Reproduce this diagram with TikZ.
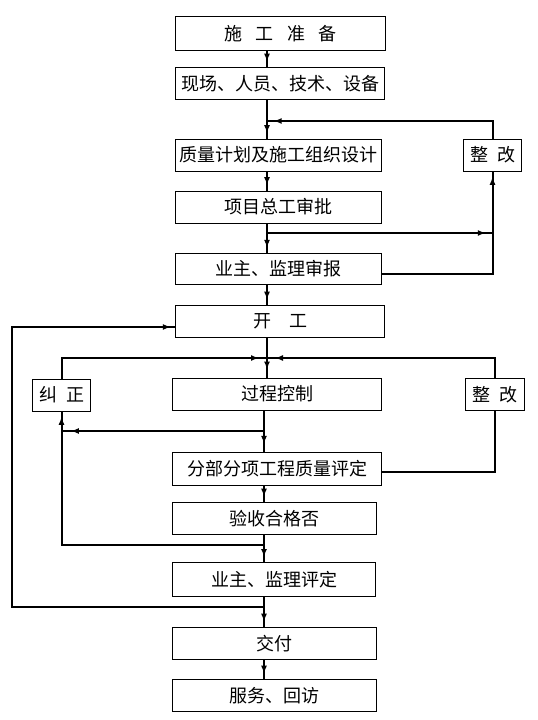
\documentclass[tikz,border=0pt]{standalone}
\usepackage{fontspec}
\newfontfamily\zh{Noto Sans CJK SC}
\usetikzlibrary{
  arrows.meta,
  decorations.markings
}
\tikzset{
  flowbox/.style={draw, line width=0.7pt, minimum width=157pt,
    minimum height=24pt, inner sep=0pt,
    font=\zh\fontsize{13.5pt}{16pt}\selectfont},
  sidebox/.style={flowbox, minimum width=44pt},
  line/.style={line width=1.5pt},
  arr/.style={line, postaction={decorate},
    decoration={markings,
      mark=at position #1 with {\arrow{Latex[length=6pt,width=4.5pt]}}}},
  arr/.default=-4pt,
}

\begin{document}
\begin{tikzpicture}[x=0.75pt, y=-0.75pt]
  \useasboundingbox (0,0) rectangle (538,720);

  % main column
  \node[flowbox, minimum height=25pt] (zhunbei) at (280.5,33.5) {施\hspace{0.75em}工\hspace{0.75em}准\hspace{0.75em}备};
  \node[flowbox] (xianchang) at (280,83.5) {现场、人员、技术、设备};
  \node[flowbox, minimum width=155pt] (zhiliang) at (278.5,155) {质量计划及施工组织设计};
  \node[flowbox, minimum width=155pt] (zonggong) at (278.5,207) {项目总工审批};
  \node[flowbox, minimum width=155pt, minimum height=23pt] (shenbao) at (278.5,269) {业主、监理审报};
  \node[flowbox] (kaigong) at (280,321.5) {开　工};
  \node[flowbox] (guocheng) at (277,394) {过程控制};
  \node[flowbox, minimum height=25pt] (fenbu) at (277,469) {分部分项工程质量评定};
  \node[flowbox, minimum width=153pt] (yanshou) at (274,518.5) {验收合格否};
  \node[flowbox, minimum width=152pt, minimum height=25pt] (pingding) at (274,579.5) {业主、监理评定};
  \node[flowbox, minimum width=153pt] (jiaofu) at (274,643.5) {交付};
  \node[flowbox, minimum width=153pt] (fuwu) at (274,695.5) {服务、回访};

  % side boxes
  \node[sidebox] (zhenggai) at (492.5,155) {整\hspace{0.5em}改};
  \node[sidebox] (jiuzheng) at (61.5,395) {纠\hspace{0.5em}正};
  \node[sidebox] (zhenggaib) at (495,394.5) {整\hspace{0.5em}改};

  % spines and free corners
  \coordinate (up) at (267,0);
  \coordinate (lo) at (264,0);
  \coordinate (outer) at (12,607);

  % main flow
  \draw[arr] (zhunbei.south -| up) -- (xianchang.north -| up);
  \draw[arr] (xianchang.south -| up) -- (zhiliang.north -| up);
  \draw[arr] (zhiliang.south -| up) -- (zonggong.north -| up);
  \draw[arr] (zonggong.south -| up) -- (shenbao.north -| up);
  \draw[arr] (shenbao.south -| up) -- (kaigong.north -| up);
  \draw[arr=-6pt] (kaigong.south -| up) -- (guocheng.north -| up);
  \draw[arr=-6pt] (guocheng.south -| lo) -- (fenbu.north -| lo);
  \draw[arr] (fenbu.south -| lo) -- (yanshou.north -| lo);
  \draw[arr] (yanshou.south -| lo) -- (pingding.north -| lo);
  \draw[arr] (pingding.south -| lo) -- (jiaofu.north -| lo);
  \draw[arr] (jiaofu.south -| lo) -- (fuwu.north -| lo);

  % upper loop
  \draw[arr=-5pt] (zhenggai.north) |- (up |- 0,121);
  \draw[arr=-5pt] (up |- 0,233) -- (zhenggai.south |- 0,233);
  \draw[arr=-4pt] (shenbao.east |- 0,274) -| (zhenggai.south);

  % lower loops
  \draw[arr=-6pt] (jiuzheng.north) |- (up |- 0,358);
  \draw[arr=-6pt] (zhenggaib.north) |- (up |- 0,358);
  \draw[line] (fenbu.east |- 0,472) -| (zhenggaib.south);
  \draw[arr=-7pt] (lo |- 0,431) -- (jiuzheng.south |- 0,431);
  \draw[arr=-4pt] (lo |- 0,545) -| (jiuzheng.south);
  \draw[arr=-3pt] (lo |- 0,607) -- (outer) |- (kaigong.west |- 0,327);
\end{tikzpicture}
\end{document}
